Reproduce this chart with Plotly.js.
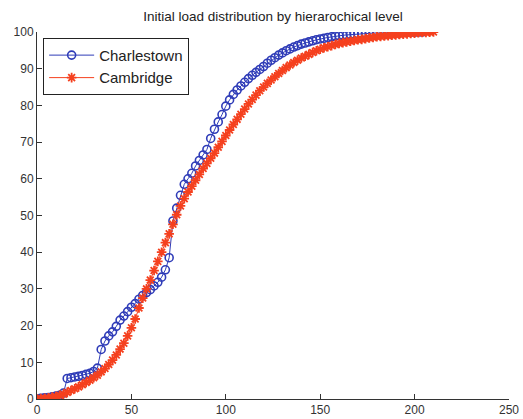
<!DOCTYPE html>
<html>
<head>
<meta charset="utf-8">
<script src="https://cdn.plot.ly/plotly-3.0.1.min.js"></script>
<style>html,body{margin:0;padding:0;background:#fff}#chart{width:523px;height:419px}</style>
</head>
<body>
<div id="chart"></div>
<script>
const titleText = "Initial load distribution by hierarochical level";
const seriesNames = ["Charlestown", "Cambridge"];

const charlestownX = [0,2,4,6,8,10,12,14,16,18,20,22,24,26,28,30,32,34,36,38,40,42,44,46,48,50,52,54,56,58,60,62,64,66,68,70,72,74,76,78,80,82,84,86,88,90,92,94,96,98,100,102,104,106,108,110,112,114,116,118,120,122,124,126,128,130,132,134,136,138,140,142,144,146,148,150,152,154,156,158,160,162,164,166,168,170,172,174,176,178,180,182,184,186,188,190,192,194,196,198,200,202,204];
const charlestownY = [0,0.2,0.3,0.4,0.6,0.8,1.0,1.6,5.6,5.8,6.0,6.2,6.4,6.7,7.0,7.5,8.4,13.5,15.8,17.2,18.3,19.8,21.5,22.6,23.8,25.0,26.0,27.2,28.2,29.0,29.8,30.8,31.8,33.2,35.2,38.5,48.5,52.0,55.5,58.5,60.0,61.5,63.5,65.0,66.5,68.0,71.0,73.5,75.5,77.5,79.8,81.5,83.0,84.2,85.3,86.3,87.3,88.2,89.0,89.8,90.6,91.5,92.3,93.0,93.7,94.3,94.9,95.4,95.9,96.3,96.7,97.0,97.3,97.6,97.9,98.1,98.3,98.5,98.7,98.9,99.0,99.1,99.2,99.3,99.4,99.5,99.55,99.6,99.65,99.7,99.72,99.75,99.78,99.8,99.83,99.86,99.88,99.9,99.93,99.95,99.97,99.99,100];

const cambridgeX = [0,2,4,6,8,10,12,14,16,18,20,22,24,26,28,30,32,34,36,38,40,42,44,46,48,50,52,54,56,58,60,62,64,66,68,70,72,74,76,78,80,82,84,86,88,90,92,94,96,98,100,102,104,106,108,110,112,114,116,118,120,122,124,126,128,130,132,134,136,138,140,142,144,146,148,150,152,154,156,158,160,162,164,166,168,170,172,174,176,178,180,182,184,186,188,190,192,194,196,198,200,202,204,206,208,210];
const cambridgeY = [0,0.1,0.2,0.3,0.5,0.7,1.0,1.3,1.8,2.3,2.8,3.3,3.9,4.5,5.1,5.8,6.5,7.4,8.3,9.4,10.6,12.0,13.6,15.2,17.2,19.4,21.8,24.8,27.5,30.0,32.4,35.0,37.5,40.0,42.6,45.0,47.6,50.2,52.6,54.6,56.4,58.0,59.6,61.2,62.8,64.2,65.6,67.0,68.6,70.2,71.8,73.3,74.8,76.2,77.6,79.0,80.4,81.6,82.8,84.0,85.0,86.0,86.9,87.8,88.7,89.5,90.3,91.0,91.7,92.3,92.9,93.4,93.9,94.4,94.9,95.3,95.7,96.0,96.3,96.6,96.9,97.1,97.3,97.5,97.7,97.9,98.0,98.2,98.4,98.5,98.7,98.8,98.9,99.0,99.1,99.2,99.3,99.4,99.5,99.6,99.7,99.8,99.85,99.9,99.95,100];

const xTicks = [0,50,100,150,200,250];
const yTicks = [0,10,20,30,40,50,60,70,80,90,100];

const blue = "#2f3cb8";
const red = "#f5401e";

const traces = [
  {x: charlestownX, y: charlestownY, name: seriesNames[0], type: "scatter", mode: "lines+markers",
   line: {color: blue, width: 1},
   marker: {symbol: "circle-open", size: 8, color: blue, line: {width: 1.6, color: blue}}},
  {x: cambridgeX, y: cambridgeY, name: seriesNames[1], type: "scatter", mode: "lines+markers",
   line: {color: red, width: 1},
   marker: {symbol: "asterisk-open", size: 8, color: red, line: {width: 1.8, color: red}}}
];

const axisCommon = {
  showgrid: false, zeroline: false, showline: true, linecolor: "#333", linewidth: 1,
  ticks: "inside", ticklen: 5, tickcolor: "#333", tickwidth: 1,
  tickfont: {family: "Liberation Sans, Arial, sans-serif", size: 12, color: "#333"}
};

const layout = {
  width: 523, height: 419,
  margin: {l: 37, r: 14, t: 32, b: 20},
  paper_bgcolor: "#fff", plot_bgcolor: "#fff",
  title: {text: titleText, x: 0.522, xanchor: "center", y: 0.96, yanchor: "middle",
          font: {family: "Liberation Sans, Arial, sans-serif", size: 13.5, color: "#222"}},
  xaxis: Object.assign({}, axisCommon, {range: [0, 250], tickvals: xTicks, ticktext: xTicks.map(String)}),
  yaxis: Object.assign({}, axisCommon, {range: [0, 100], tickvals: yTicks, ticktext: yTicks.map(String)}),
  showlegend: true,
  legend: {x: 0.013, y: 0.984, xanchor: "left", yanchor: "top",
           bgcolor: "#fff", bordercolor: "#222", borderwidth: 1,
           font: {family: "Liberation Sans, Arial, sans-serif", size: 15, color: "#222"},
           itemwidth: 45, tracegroupgap: 0}
};

Plotly.newPlot("chart", traces, layout, {displayModeBar: false, staticPlot: true});
</script>
</body>
</html>
